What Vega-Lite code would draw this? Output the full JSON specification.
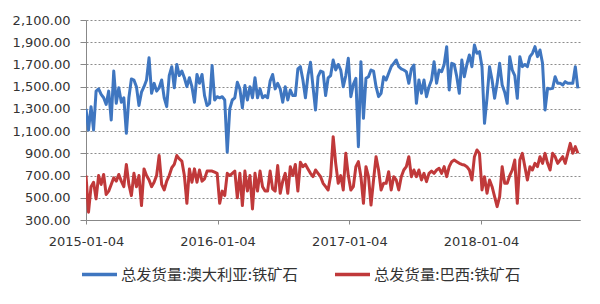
{
 "$schema": "https://vega.github.io/schema/vega-lite/v6.json",
 "width": 494, "height": 200,
 "autosize": {"type": "none"},
 "padding": {"left": 86, "top": 20, "right": 20, "bottom": 84},
 "background": "white",
 "config": {"view": {"stroke": null}, "font": "DejaVu Sans"},
 "data": {"values": [
{"d":"2015-01-04","au":1300,"br":700},{"d":"2015-01-11","au":1110,"br":370},{"d":"2015-01-18","au":1320,"br":600},{"d":"2015-01-25","au":1110,"br":640},
{"d":"2015-02-01","au":1460,"br":490},{"d":"2015-02-08","au":1480,"br":700},{"d":"2015-02-15","au":1430,"br":620},{"d":"2015-02-22","au":1400,"br":710},
{"d":"2015-03-01","au":1340,"br":530},{"d":"2015-03-08","au":1460,"br":560},{"d":"2015-03-15","au":1200,"br":620},{"d":"2015-03-22","au":1640,"br":680},{"d":"2015-03-29","au":1350,"br":650},
{"d":"2015-04-05","au":1490,"br":710},{"d":"2015-04-12","au":1360,"br":650},{"d":"2015-04-19","au":1400,"br":600},{"d":"2015-04-26","au":1080,"br":800},
{"d":"2015-05-03","au":1400,"br":620},{"d":"2015-05-10","au":1570,"br":520},{"d":"2015-05-17","au":1560,"br":720},{"d":"2015-05-24","au":1500,"br":600},{"d":"2015-05-31","au":1330,"br":700},
{"d":"2015-06-07","au":1450,"br":430},{"d":"2015-06-14","au":1500,"br":760},{"d":"2015-06-21","au":1560,"br":700},{"d":"2015-06-28","au":1760,"br":660},
{"d":"2015-07-05","au":1440,"br":600},{"d":"2015-07-12","au":1530,"br":640},{"d":"2015-07-19","au":1460,"br":700},{"d":"2015-07-26","au":1490,"br":880},
{"d":"2015-08-02","au":1560,"br":620},{"d":"2015-08-09","au":1400,"br":570},{"d":"2015-08-16","au":1320,"br":650},{"d":"2015-08-23","au":1600,"br":700},{"d":"2015-08-30","au":1680,"br":770},
{"d":"2015-09-06","au":1490,"br":800},{"d":"2015-09-13","au":1700,"br":880},{"d":"2015-09-20","au":1600,"br":850},{"d":"2015-09-27","au":1640,"br":830},
{"d":"2015-10-04","au":1580,"br":700},{"d":"2015-10-11","au":1500,"br":450},{"d":"2015-10-18","au":1580,"br":760},{"d":"2015-10-25","au":1500,"br":640},
{"d":"2015-11-01","au":1360,"br":760},{"d":"2015-11-08","au":1610,"br":640},{"d":"2015-11-15","au":1530,"br":750},{"d":"2015-11-22","au":1610,"br":650},{"d":"2015-11-29","au":1420,"br":670},
{"d":"2015-12-06","au":1330,"br":740},{"d":"2015-12-13","au":1350,"br":740},{"d":"2015-12-20","au":1690,"br":740},{"d":"2015-12-27","au":1380,"br":730},
{"d":"2016-01-03","au":1410,"br":720},{"d":"2016-01-10","au":1400,"br":450},{"d":"2016-01-17","au":1410,"br":560},{"d":"2016-01-24","au":1380,"br":520},{"d":"2016-01-31","au":910,"br":720},
{"d":"2016-02-07","au":1300,"br":700},{"d":"2016-02-14","au":1380,"br":720},{"d":"2016-02-21","au":1400,"br":740},{"d":"2016-02-28","au":1540,"br":500},
{"d":"2016-03-06","au":1480,"br":720},{"d":"2016-03-13","au":1310,"br":430},{"d":"2016-03-20","au":1510,"br":740},{"d":"2016-03-27","au":1380,"br":560},
{"d":"2016-04-03","au":1500,"br":700},{"d":"2016-04-10","au":1400,"br":400},{"d":"2016-04-17","au":1580,"br":720},{"d":"2016-04-24","au":1400,"br":560},
{"d":"2016-05-01","au":1480,"br":740},{"d":"2016-05-08","au":1400,"br":600},{"d":"2016-05-15","au":1420,"br":560},{"d":"2016-05-22","au":1400,"br":560},{"d":"2016-05-29","au":1550,"br":740},
{"d":"2016-06-05","au":1610,"br":580},{"d":"2016-06-12","au":1480,"br":560},{"d":"2016-06-19","au":1530,"br":790},{"d":"2016-06-26","au":1480,"br":540},
{"d":"2016-07-03","au":1360,"br":650},{"d":"2016-07-10","au":1500,"br":720},{"d":"2016-07-17","au":1380,"br":540},{"d":"2016-07-24","au":1470,"br":780},{"d":"2016-07-31","au":1420,"br":700},
{"d":"2016-08-07","au":1420,"br":800},{"d":"2016-08-14","au":1660,"br":560},{"d":"2016-08-21","au":1680,"br":820},{"d":"2016-08-28","au":1560,"br":780},
{"d":"2016-09-04","au":1400,"br":800},{"d":"2016-09-11","au":1600,"br":760},{"d":"2016-09-18","au":1720,"br":720},{"d":"2016-09-25","au":1500,"br":690},
{"d":"2016-10-02","au":1290,"br":750},{"d":"2016-10-09","au":1590,"br":720},{"d":"2016-10-16","au":1640,"br":690},{"d":"2016-10-23","au":1630,"br":630},{"d":"2016-10-30","au":1420,"br":600},
{"d":"2016-11-06","au":1580,"br":570},{"d":"2016-11-13","au":1600,"br":700},{"d":"2016-11-20","au":1740,"br":1050},{"d":"2016-11-27","au":1650,"br":810},
{"d":"2016-12-04","au":1700,"br":630},{"d":"2016-12-11","au":1650,"br":700},{"d":"2016-12-18","au":1500,"br":570},{"d":"2016-12-25","au":1600,"br":900},
{"d":"2017-01-01","au":1755,"br":700},{"d":"2017-01-08","au":1410,"br":570},{"d":"2017-01-15","au":1520,"br":600},{"d":"2017-01-22","au":1575,"br":780},{"d":"2017-01-29","au":960,"br":825},
{"d":"2017-02-05","au":1725,"br":690},{"d":"2017-02-12","au":1215,"br":450},{"d":"2017-02-19","au":1575,"br":780},{"d":"2017-02-26","au":1590,"br":690},
{"d":"2017-03-05","au":1650,"br":435},{"d":"2017-03-12","au":1640,"br":660},{"d":"2017-03-19","au":1500,"br":870},{"d":"2017-03-26","au":1410,"br":750},
{"d":"2017-04-02","au":1440,"br":570},{"d":"2017-04-09","au":1590,"br":630},{"d":"2017-04-16","au":1560,"br":630},{"d":"2017-04-23","au":1620,"br":735},{"d":"2017-04-30","au":1680,"br":570},
{"d":"2017-05-07","au":1710,"br":690},{"d":"2017-05-14","au":1740,"br":660},{"d":"2017-05-21","au":1680,"br":570},{"d":"2017-05-28","au":1660,"br":690},
{"d":"2017-06-04","au":1650,"br":750},{"d":"2017-06-11","au":1635,"br":780},{"d":"2017-06-18","au":1530,"br":870},{"d":"2017-06-25","au":1660,"br":690},
{"d":"2017-07-02","au":1695,"br":750},{"d":"2017-07-09","au":1350,"br":690},{"d":"2017-07-16","au":1560,"br":750},{"d":"2017-07-23","au":1440,"br":660},{"d":"2017-07-30","au":1560,"br":720},
{"d":"2017-08-06","au":1410,"br":645},{"d":"2017-08-13","au":1500,"br":720},{"d":"2017-08-20","au":1560,"br":740},{"d":"2017-08-27","au":1725,"br":720},
{"d":"2017-09-03","au":1530,"br":750},{"d":"2017-09-10","au":1650,"br":765},{"d":"2017-09-17","au":1635,"br":720},{"d":"2017-09-24","au":1700,"br":780},
{"d":"2017-10-01","au":1860,"br":690},{"d":"2017-10-08","au":1470,"br":780},{"d":"2017-10-15","au":1710,"br":825},{"d":"2017-10-22","au":1700,"br":840},{"d":"2017-10-29","au":1590,"br":825},
{"d":"2017-11-05","au":1440,"br":810},{"d":"2017-11-12","au":1740,"br":800},{"d":"2017-11-19","au":1590,"br":795},{"d":"2017-11-26","au":1700,"br":780},
{"d":"2017-12-03","au":1785,"br":750},{"d":"2017-12-10","au":1680,"br":660},{"d":"2017-12-17","au":1875,"br":870},{"d":"2017-12-24","au":1800,"br":930},{"d":"2017-12-31","au":1815,"br":900},
{"d":"2018-01-07","au":1680,"br":570},{"d":"2018-01-14","au":1170,"br":690},{"d":"2018-01-21","au":1400,"br":540},{"d":"2018-01-28","au":1680,"br":660},
{"d":"2018-02-04","au":1560,"br":600},{"d":"2018-02-11","au":1395,"br":510},{"d":"2018-02-18","au":1530,"br":420},{"d":"2018-02-25","au":1710,"br":510},
{"d":"2018-03-04","au":1515,"br":780},{"d":"2018-03-11","au":1450,"br":630},{"d":"2018-03-18","au":1350,"br":630},{"d":"2018-03-25","au":1770,"br":700},
{"d":"2018-04-01","au":1650,"br":750},{"d":"2018-04-08","au":1600,"br":840},{"d":"2018-04-15","au":1395,"br":450},{"d":"2018-04-22","au":1770,"br":840},{"d":"2018-04-29","au":1680,"br":900},
{"d":"2018-05-06","au":1700,"br":780},{"d":"2018-05-13","au":1680,"br":660},{"d":"2018-05-20","au":1770,"br":780},{"d":"2018-05-27","au":1800,"br":750},
{"d":"2018-06-03","au":1860,"br":810},{"d":"2018-06-10","au":1770,"br":780},{"d":"2018-06-17","au":1830,"br":870},{"d":"2018-06-24","au":1710,"br":810},
{"d":"2018-07-01","au":1290,"br":900},{"d":"2018-07-08","au":1485,"br":810},{"d":"2018-07-15","au":1480,"br":750},{"d":"2018-07-22","au":1485,"br":900},{"d":"2018-07-29","au":1590,"br":870},
{"d":"2018-08-05","au":1530,"br":810},{"d":"2018-08-12","au":1530,"br":840},{"d":"2018-08-19","au":1515,"br":870},{"d":"2018-08-26","au":1545,"br":810},
{"d":"2018-09-02","au":1530,"br":900},{"d":"2018-09-09","au":1530,"br":990},{"d":"2018-09-16","au":1530,"br":900},{"d":"2018-09-23","au":1680,"br":960},{"d":"2018-09-30","au":1485,"br":900}
 ]},
 "transform": [{"fold": ["au", "br"], "as": ["series", "value"]}],
 "mark": {"type": "line", "strokeWidth": 3, "strokeJoin": "round", "clip": true},
 "encoding": {
  "x": {"field": "d", "type": "temporal",
   "scale": {"type": "utc", "domain": [{"year": 2015, "month": 1, "date": 4, "utc": true}, {"year": 2018, "month": 10, "date": 6, "utc": true}]},
   "axis": {"title": null,
    "values": [{"year": 2015, "month": 1, "date": 4, "utc": true}, {"year": 2016, "month": 1, "date": 4, "utc": true}, {"year": 2017, "month": 1, "date": 4, "utc": true}, {"year": 2018, "month": 1, "date": 4, "utc": true}],
    "labelExpr": "utcFormat(datum.value, '%Y-%m-%d')",
    "grid": false, "domainColor": "#888888", "tickColor": "#888888", "tickSize": 4,
    "labelFontSize": 13, "labelColor": "#333333", "labelPadding": 11, "labelFlush": false, "labelOverlap": false}},
  "y": {"field": "value", "type": "quantitative",
   "scale": {"domain": [300, 2100], "nice": false, "zero": false},
   "axis": {"title": null, "values": [300, 500, 700, 900, 1100, 1300, 1500, 1700, 1900, 2100],
    "format": ",.2f", "gridDash": [2, 2], "gridColor": "#8c8c8c", "gridOpacity": 1,
    "domainColor": "#888888", "tickColor": "#888888", "tickSize": 6, "labelPadding": 10,
    "labelFontSize": 13, "labelColor": "#333333"}},
  "color": {"field": "series", "type": "nominal",
   "scale": {"domain": ["au", "br"], "range": ["#3F76C0", "#C0393A"]},
   "legend": {"title": null, "orient": "none", "legendX": -6, "legendY": 235, "direction": "horizontal",
    "symbolType": "stroke", "symbolSize": 1225, "symbolStrokeWidth": 3.5,
    "labelFontSize": 15.3, "labelFont": "Noto Sans CJK SC", "labelColor": "#333333", "labelOffset": 2,
    "columnPadding": 30, "padding": 0, "labelLimit": 300,
    "labelExpr": "datum.value == 'au' ? '总发货量:澳大利亚:铁矿石' : '总发货量:巴西:铁矿石'"}}
 }
}
